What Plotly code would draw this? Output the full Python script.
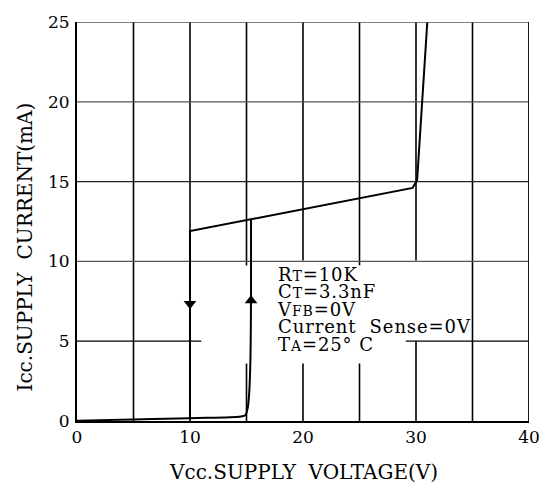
import plotly.graph_objects as go

# ---- data ----
x_ticks = [0, 10, 20, 30, 40]
y_ticks = [0, 5, 10, 15, 20, 25]
grid_x = [5, 10, 15, 20, 25, 30, 35]
grid_y = [5, 10, 15, 20]

# start-up branch (rising)
up_v = [0, 5, 10, 14.5, 14.9, 15.1, 15.25, 15.35, 15.4, 15.4]
up_i = [0.02, 0.1, 0.18, 0.28, 0.37, 0.8, 1.9, 4.0, 8.0, 12.6]
# operating branch (falling back at UVLO)
op_v = [10, 10, 29.7, 30.1, 31.0]
op_i = [0.18, 11.9, 14.6, 15.1, 25.0]

arrow_down = (10, 7.35)
arrow_up = (15.4, 7.55)

SUB = "<span style='font-size:14px'>{}</span>"
notes = [
    "R" + SUB.format("T") + "=10K",
    "C" + SUB.format("T") + "=3.3nF",
    "V" + SUB.format("FB") + "=0V",
    "Current  Sense=0V",
    "T" + SUB.format("A") + "=25° C",
]
note_center_y = 6.98
note_x = 17.5

FONT = "DejaVu Serif"

fig = go.Figure()

# gridlines with gaps behind the note box
vgaps = {15: (3.6, 9.75), 20: (3.6, 10.05), 25: (3.6, 9.75), 30: (5.0, 10.05)}
for gx in grid_x:
    if gx in vgaps:
        lo, hi = vgaps[gx]
        segs = [(0, lo), (hi, 25)]
    else:
        segs = [(0, 25)]
    for a, b in segs:
        fig.add_shape(type="line", x0=gx, x1=gx, y0=a, y1=b, xref="x", yref="y",
                      line=dict(color="black", width=1.6), layer="below")
for gy in grid_y:
    if gy == 5:
        segs = [(0, 11.0), (29.1, 40)]
        col = "black"
    else:
        segs = [(0, 40)]
        col = "#222" if gy == 15 else "#555"
    for a, b in segs:
        fig.add_shape(type="line", x0=a, x1=b, y0=gy, y1=gy, xref="x", yref="y",
                      line=dict(color=col, width=1.3), layer="below")
# frame top (gray) and right (black)
fig.add_shape(type="line", x0=0, x1=40, y0=25, y1=25, line=dict(color="#555", width=1.3))
fig.add_shape(type="line", x0=40, x1=40, y0=0, y1=25, line=dict(color="black", width=1.8))

fig.add_trace(go.Scatter(x=up_v, y=up_i, mode="lines", line=dict(color="black", width=2),
                         line_shape="spline", hoverinfo="skip"))
fig.add_trace(go.Scatter(x=op_v, y=op_i, mode="lines", line=dict(color="black", width=2),
                         hoverinfo="skip"))
fig.add_trace(go.Scatter(x=[arrow_down[0]], y=[arrow_down[1]], mode="markers",
                         marker=dict(symbol="triangle-down", size=11, color="black")))
fig.add_trace(go.Scatter(x=[arrow_up[0]], y=[arrow_up[1]], mode="markers",
                         marker=dict(symbol="triangle-up", size=11, color="black")))

# one text block: small base size sets the tight line pitch, spans set glyph size
note_text = "<br>".join(
    "<span style='font-size:18px;letter-spacing:0.9px'>" + t + "</span>" for t in notes
)
fig.add_annotation(x=note_x, y=note_center_y, xref="x", yref="y", text=note_text,
                   showarrow=False, xanchor="left", yanchor="middle", align="left",
                   font=dict(family=FONT, size=13.4, color="black"))

fig.add_annotation(x=0.5, y=-0.128, xref="paper", yref="paper", yanchor="middle",
                   text="Vcc.SUPPLY  VOLTAGE(V)", showarrow=False,
                   font=dict(family=FONT, size=20, color="black"))
fig.add_annotation(x=-0.114, y=0.436, xref="paper", yref="paper", textangle=-90,
                   xanchor="center", yanchor="middle",
                   text="Icc.SUPPLY  CURRENT(mA)", showarrow=False,
                   font=dict(family=FONT, size=20, color="black"))

fig.update_layout(
    width=552, height=487,
    margin=dict(l=77, r=18, t=13, b=66),
    paper_bgcolor="white", plot_bgcolor="white",
    showlegend=False,
    font=dict(family=FONT, size=17, color="black"),
    xaxis=dict(range=[0, 40], tickvals=x_ticks, showgrid=False, zeroline=False,
               showline=True, linecolor="black", linewidth=2, ticks="",
               ticklabelstandoff=0, fixedrange=True),
    yaxis=dict(range=[0, 25], tickvals=y_ticks, showgrid=False, zeroline=False,
               showline=True, linecolor="black", linewidth=2, ticks="",
               ticklabelstandoff=2, fixedrange=True),
)

fig.write_html("out.html", config={"displayModeBar": False},
               post_script="document.body.style.margin='0';")
